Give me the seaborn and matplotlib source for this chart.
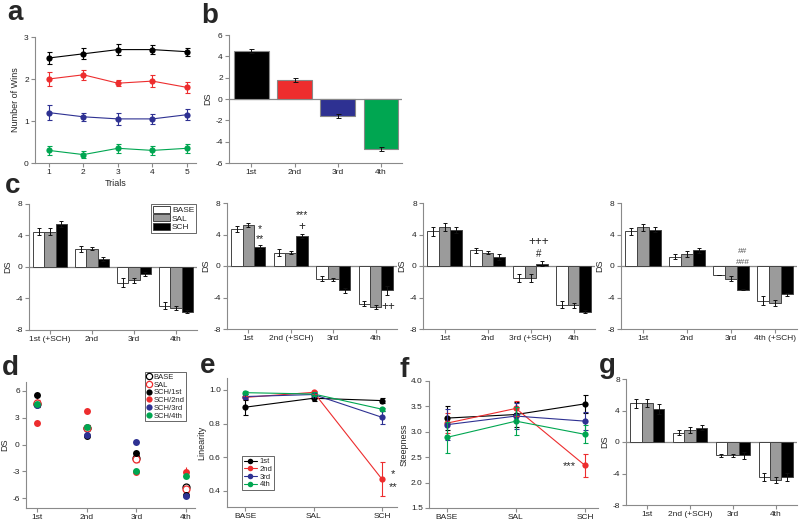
import matplotlib
matplotlib.use("Agg")
import matplotlib.pyplot as plt
from matplotlib.lines import Line2D
from matplotlib.patches import Patch
import numpy as np
import pandas as pd
import seaborn as sns

sns.set_style("ticks")
plt.rcParams["font.family"] = ["Liberation Sans", "DejaVu Sans"]
plt.rcParams["axes.unicode_minus"] = False

# ---------------- data ----------------
RANKS = ["1st", "2nd", "3rd", "4th"]
RANK_COLORS = ["#000000", "#ED2D2E", "#2E3192", "#00A651"]

# a: number of wins over trials
TRIALS = [1, 2, 3, 4, 5]
WINS = {
    "1st": [2.5, 2.6, 2.7, 2.7, 2.65],
    "2nd": [2.0, 2.1, 1.9, 1.95, 1.8],
    "3rd": [1.2, 1.1, 1.05, 1.05, 1.15],
    "4th": [0.3, 0.2, 0.35, 0.3, 0.35],
}
WINS_ERR = {
    "1st": [0.15, 0.13, 0.13, 0.1, 0.1],
    "2nd": [0.17, 0.12, 0.07, 0.15, 0.13],
    "3rd": [0.17, 0.1, 0.15, 0.12, 0.13],
    "4th": [0.1, 0.08, 0.1, 0.1, 0.1],
}

# b: DS per rank
B_DS = [4.5, 1.8, -1.6, -4.7]
B_ERR = [0.2, 0.2, 0.2, 0.2]

# c / g: DS per rank for BASE, SAL, SCH
CONDS = ["BASE", "SAL", "SCH"]
COND_COLORS = ["#FFFFFF", "#9B9B9B", "#000000"]
C1_DS = {"BASE": [4.5, 2.3, -2.0, -4.9], "SAL": [4.5, 2.3, -1.7, -5.2], "SCH": [5.5, 1.0, -0.9, -5.7]}
C1_ERR = {"BASE": [0.5, 0.4, 0.6, 0.4], "SAL": [0.5, 0.2, 0.3, 0.3], "SCH": [0.4, 0.3, 0.3, 0.2]}
C2_DS = {"BASE": [4.7, 1.7, -1.6, -4.8], "SAL": [5.2, 1.7, -1.7, -5.2], "SCH": [2.4, 3.8, -3.1, -3.1]}
C2_ERR = {"BASE": [0.4, 0.4, 0.3, 0.3], "SAL": [0.3, 0.2, 0.2, 0.3], "SCH": [0.3, 0.3, 0.3, 0.6]}
C3_DS = {"BASE": [4.4, 2.0, -1.5, -4.9], "SAL": [4.9, 1.7, -1.5, -5.0], "SCH": [4.6, 1.1, 0.3, -5.8]}
C3_ERR = {"BASE": [0.6, 0.3, 0.5, 0.4], "SAL": [0.5, 0.2, 0.5, 0.3], "SCH": [0.4, 0.4, 0.3, 0.2]}
C4_DS = {"BASE": [4.4, 1.2, -1.2, -4.4], "SAL": [4.9, 1.5, -1.6, -4.7], "SCH": [4.6, 2.0, -3.0, -3.6]}
C4_ERR = {"BASE": [0.4, 0.3, 0.0, 0.6], "SAL": [0.4, 0.4, 0.3, 0.4], "SCH": [0.3, 0.3, 0.1, 0.2]}
G_DS = {"BASE": [4.9, 1.2, -1.7, -4.4], "SAL": [5.0, 1.5, -1.7, -4.8], "SCH": [4.2, 1.8, -1.7, -4.4]}
G_ERR = {"BASE": [0.6, 0.3, 0.2, 0.5], "SAL": [0.5, 0.4, 0.2, 0.4], "SCH": [0.6, 0.3, 0.4, 0.5]}
C1_LABELS = ["1st (+SCH)", "2nd", "3rd", "4th"]
C2_LABELS = ["1st", "2nd (+SCH)", "3rd", "4th"]
C3_LABELS = ["1st", "2nd", "3rd (+SCH)", "4th"]
C4_LABELS = ["1st", "2nd", "3rd", "4th (+SCH)"]
G_LABELS = ["1st", "2nd (+SCH)", "3rd", "4th"]

# d: DS by rank for every condition
D_SERIES = ["BASE", "SAL", "SCH/1st", "SCH/2nd", "SCH/3rd", "SCH/4th"]
D_COLORS = ["#000000", "#ED2D2E", "#000000", "#ED2D2E", "#2E3192", "#00A651"]
D_OPEN = [True, True, False, False, False, False]
D_DS = {
    "BASE": [4.5, 1.9, -1.5, -4.8],
    "SAL": [4.7, 1.8, -1.6, -5.0],
    "SCH/1st": [5.5, 1.0, -0.9, -5.7],
    "SCH/2nd": [2.4, 3.8, -3.1, -3.1],
    "SCH/3rd": [4.4, 1.1, 0.3, -5.8],
    "SCH/4th": [4.5, 2.0, -3.0, -3.5],
}
D_ERR = {
    "BASE": [0.3, 0.3, 0.3, 0.3],
    "SAL": [0.3, 0.2, 0.3, 0.3],
    "SCH/1st": [0.4, 0.3, 0.3, 0.2],
    "SCH/2nd": [0.3, 0.3, 0.3, 0.6],
    "SCH/3rd": [0.3, 0.4, 0.3, 0.2],
    "SCH/4th": [0.3, 0.3, 0.2, 0.2],
}

# e / f: linearity and steepness
TREAT = ["BASE", "SAL", "SCH"]
LIN = {"1st": [0.897, 0.95, 0.936], "2nd": [0.955, 0.985, 0.47],
       "3rd": [0.96, 0.972, 0.837], "4th": [0.983, 0.975, 0.885]}
LIN_ERR = {"1st": [0.045, 0.015, 0.015], "2nd": [0.01, 0.01, 0.1],
           "3rd": [0.015, 0.01, 0.04], "4th": [0.01, 0.01, 0.01]}
STEEP = {"1st": [3.27, 3.34, 3.55], "2nd": [3.17, 3.46, 2.34],
         "3rd": [3.14, 3.31, 3.21], "4th": [2.89, 3.21, 2.95]}
STEEP_ERR = {"1st": [0.24, 0.25, 0.18], "2nd": [0.2, 0.15, 0.23],
             "3rd": [0.3, 0.25, 0.17], "4th": [0.31, 0.27, 0.18]}

SPINE = "#8A8A8A"
TXT = "#222222"


def px_axes(fig, left, top, right, bottom):
    return fig.add_axes([left / 800, 1 - bottom / 520, (right - left) / 800, (bottom - top) / 520])


def style(ax):
    sns.despine(ax=ax)
    for s in ["left", "bottom"]:
        ax.spines[s].set_color(SPINE)
        ax.spines[s].set_linewidth(0.8)
    ax.tick_params(length=3, width=0.8, color=SPINE, labelsize=6, pad=1.5, labelcolor=TXT)
    ax.xaxis.label.set_size(6.5)
    ax.yaxis.label.set_size(6.5)


def bar_panel(ax, ds, err, labels):
    rows = []
    for cond in CONDS:
        for rank, v in zip(RANKS, ds[cond]):
            rows.append({"rank": rank, "cond": cond, "ds": v})
    df = pd.DataFrame(rows)
    ax.axhline(0, color=SPINE, lw=0.9, zorder=0)
    sns.barplot(data=df, x="rank", y="ds", hue="cond", hue_order=CONDS, palette=COND_COLORS,
                errorbar=None, width=0.8, saturation=1, edgecolor="#444444", linewidth=0.7,
                legend=False, ax=ax)
    for cont, cond in zip(ax.containers, CONDS):
        for bar, v, e in zip(cont, ds[cond], err[cond]):
            xc = bar.get_x() + bar.get_width() / 2
            ax.errorbar(xc, v, yerr=e, fmt="none", ecolor="#111111", elinewidth=0.7,
                        capsize=1.6, capthick=0.7, zorder=5)
    ax.set_ylim(-8, 8)
    ax.set_yticks([-8, -4, 0, 4, 8])
    ax.set_xlim(-0.5, 3.5)
    ax.set_xticks(range(4))
    ax.set_xticklabels(labels)
    ax.set_xlabel("")
    ax.set_ylabel("DS", labelpad=2)
    style(ax)


def line_panel(ax, vals, errs, xs, ms=4.5):
    rows = []
    for r in RANKS:
        for x, v in zip(xs, vals[r]):
            rows.append({"x": x, "y": v, "rank": r})
    df = pd.DataFrame(rows)
    sns.lineplot(data=df, x="x", y="y", hue="rank", hue_order=RANKS, palette=RANK_COLORS,
                 marker="o", markersize=ms, markeredgewidth=0, linewidth=0.8,
                 errorbar=None, legend=False, ax=ax)
    for r, c in zip(RANKS, RANK_COLORS):
        ax.errorbar(xs, vals[r], yerr=errs[r], fmt="none", ecolor=c, elinewidth=0.8,
                    capsize=1.8, capthick=0.8)
    ax.set_xlabel("")


fig = plt.figure(figsize=(8, 5.2), dpi=100)

# ---- a ----
ax = px_axes(fig, 35, 37, 196, 163)
line_panel(ax, WINS, WINS_ERR, TRIALS)
ax.set_xlim(0.6, 5.26)
ax.set_ylim(0, 3)
ax.set_xticks(TRIALS)
ax.set_yticks([0, 1, 2, 3])
ax.set_xlabel("Trials", labelpad=2)
ax.set_ylabel("Number of Wins", labelpad=3)
style(ax)

# ---- b ----
ax = px_axes(fig, 229, 35, 402, 163)
ax.axhline(0, color=SPINE, lw=0.9, zorder=0)
sns.barplot(x=RANKS, y=B_DS, hue=RANKS, palette=RANK_COLORS, legend=False, saturation=1,
            width=0.8, edgecolor="#888888", linewidth=0.8, errorbar=None, ax=ax)
ax.errorbar(range(4), B_DS, yerr=B_ERR, fmt="none", ecolor="#111111", elinewidth=0.7,
            capsize=1.8, capthick=0.7)
ax.set_ylim(-6, 6)
ax.set_yticks([-6, -4, -2, 0, 2, 4, 6])
ax.set_xlim(-0.52, 3.49)
ax.set_ylabel("DS", labelpad=2)
style(ax)

# ---- c ----
ax = px_axes(fig, 29, 204, 197, 330)
bar_panel(ax, C1_DS, C1_ERR, C1_LABELS)
handles = [Patch(facecolor=c, edgecolor="#444444", linewidth=0.7) for c in COND_COLORS]
ax.legend(handles, CONDS, loc="upper right", bbox_to_anchor=(196 / 800, 1 - 204 / 520),
          bbox_transform=fig.transFigure, fontsize=6, frameon=True, fancybox=False,
          edgecolor="#222222", borderpad=0.2, handlelength=2.0, handleheight=0.9,
          labelspacing=0.05, handletextpad=0.3, borderaxespad=0).get_frame().set_linewidth(0.6)

ax = px_axes(fig, 227, 203, 397, 329)
bar_panel(ax, C2_DS, C2_ERR, C2_LABELS)
ax.text(0.267, 4.7, "*", ha="center", va="center", fontsize=7.5)
ax.text(0.267, 3.4, "**", ha="center", va="center", fontsize=7.5)
ax.text(1.267, 6.5, "***", ha="center", va="center", fontsize=7.5)
ax.text(1.267, 4.95, "+", ha="center", va="center", fontsize=8.5)
ax.text(3.3, -5.2, "++", ha="center", va="center", fontsize=8.5)

ax = px_axes(fig, 423, 203, 595, 329)
bar_panel(ax, C3_DS, C3_ERR, C3_LABELS)
ax.text(2.2, 3.0, "+++", ha="center", va="center", fontsize=8.5)
ax.text(2.2, 1.5, "#", ha="center", va="center", fontsize=7)

ax = px_axes(fig, 621, 203, 797, 329)
bar_panel(ax, C4_DS, C4_ERR, C4_LABELS)
ax.text(2.267, 1.8, "##", ha="center", va="center", fontsize=6, color="#555555")
ax.text(2.267, 0.45, "###", ha="center", va="center", fontsize=6, color="#555555")

# ---- d ----
ax = px_axes(fig, 26, 382, 195, 508)
xs = np.arange(4)
for name, c, op in zip(D_SERIES, D_COLORS, D_OPEN):
    ax.errorbar(xs, D_DS[name], yerr=D_ERR[name], fmt="o", color=c, ecolor=c,
                markersize=5, markerfacecolor="white" if op else c,
                markeredgecolor=c, markeredgewidth=0.9 if op else 0,
                elinewidth=0.8, capsize=1.8, capthick=0.8, label=name)
ax.set_xlim(-0.22, 3.18)
ax.set_ylim(-7.1, 7.0)
ax.set_xticks(xs)
ax.set_xticklabels(RANKS)
ax.set_yticks([-6, -3, 0, 3, 6])
ax.set_ylabel("DS", labelpad=2)
style(ax)
handles = [Line2D([], [], ls="none", marker="o", markersize=4.5, color=c,
                  markerfacecolor="white" if op else c, markeredgewidth=0.9 if op else 0)
           for c, op in zip(D_COLORS, D_OPEN)]
leg = ax.legend(handles, D_SERIES, loc="upper right", bbox_to_anchor=(186 / 800, 1 - 372 / 520),
                bbox_transform=fig.transFigure, fontsize=5.5, frameon=True, fancybox=False,
                edgecolor="#222222", borderpad=0.2, handlelength=0.6, labelspacing=0.05,
                handletextpad=0.3, borderaxespad=0)
leg.get_frame().set_linewidth(0.6)

# ---- e ----
ax = px_axes(fig, 227, 378, 397, 507)
line_panel(ax, LIN, LIN_ERR, [0, 1, 2], ms=4.5)
ax.set_xlim(-0.27, 2.22)
ax.set_ylim(0.305, 1.07)
ax.set_xticks([0, 1, 2])
ax.set_xticklabels(TREAT)
ax.set_yticks([0.4, 0.6, 0.8, 1.0])
ax.set_yticklabels(["0.4", "0.6", "0.8", "1.0"])
ax.set_ylabel("Linearity", labelpad=2)
style(ax)
ax.text(2.16, 0.5, "*", ha="center", va="center", fontsize=8)
ax.text(2.16, 0.425, "**", ha="center", va="center", fontsize=8)
handles = [Line2D([], [], color=c, marker="o", markersize=4, markeredgewidth=0, lw=0.8)
           for c in RANK_COLORS]
leg = ax.legend(handles, RANKS, loc="lower left", bbox_to_anchor=(242 / 800, 1 - 490 / 520),
                bbox_transform=fig.transFigure, fontsize=5.5, frameon=True, fancybox=False,
                edgecolor="#222222", borderpad=0.2, handlelength=1.8, labelspacing=0.05,
                handletextpad=0.3, borderaxespad=0)
leg.get_frame().set_linewidth(0.6)

# ---- f ----
ax = px_axes(fig, 429, 381, 598, 508)
line_panel(ax, STEEP, STEEP_ERR, [0, 1, 2], ms=4.5)
ax.set_xlim(-0.26, 2.19)
ax.set_ylim(1.5, 4.0)
ax.set_xticks([0, 1, 2])
ax.set_xticklabels(TREAT)
ax.set_yticks([1.5, 2.0, 2.5, 3.0, 3.5, 4.0])
ax.set_yticklabels(["1.5", "2.0", "2.5", "3.0", "3.5", "4.0"])
ax.set_ylabel("Steepness", labelpad=2)
style(ax)
ax.text(1.78, 2.33, "***", ha="center", va="center", fontsize=8)

# ---- g ----
ax = px_axes(fig, 626, 379, 797, 505)
bar_panel(ax, G_DS, G_ERR, G_LABELS)

# panel letters
for letter, x, y in [("a", 7, 20), ("b", 201, 23), ("c", 5, 193), ("d", 2, 375),
                     ("e", 200, 373), ("f", 399, 377), ("g", 599, 373)]:
    fig.text(x / 800, 1 - y / 520, letter, fontsize=20, fontweight="bold", va="baseline")

fig.savefig("out.png", dpi=100)
